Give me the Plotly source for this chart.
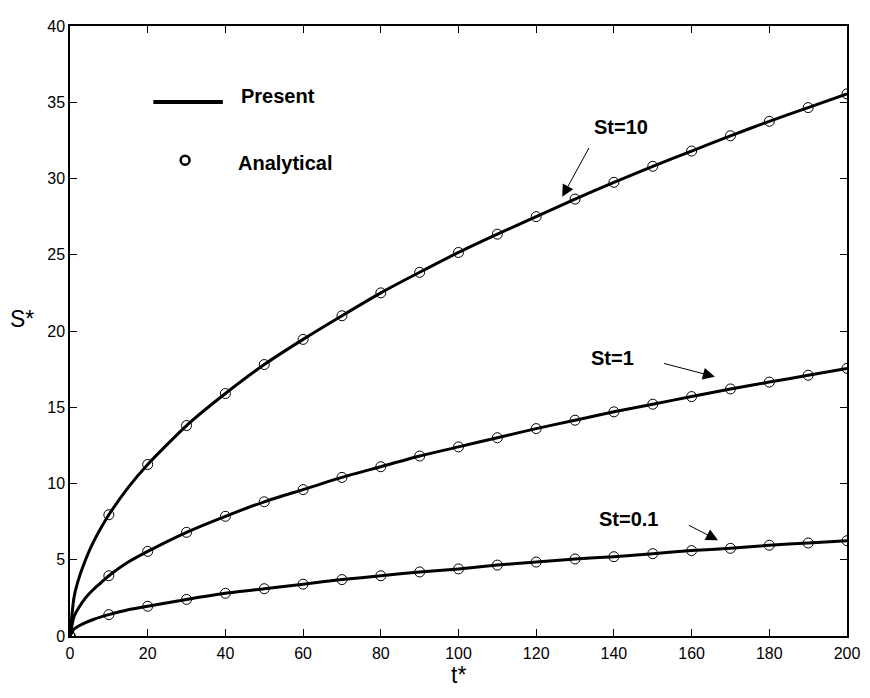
import plotly.graph_objects as go

# ---- data ----
t_markers = [0, 10, 20, 30, 40, 50, 60, 70, 80, 90, 100, 110, 120, 130, 140, 150, 160, 170, 180, 190, 200]
s_st10 = [0, 7.95, 11.25, 13.8, 15.9, 17.8, 19.45, 21.0, 22.5, 23.85, 25.15, 26.35, 27.5, 28.65, 29.75, 30.8, 31.8, 32.8, 33.75, 34.65, 35.55]
s_st1 = [0, 3.95, 5.55, 6.8, 7.85, 8.8, 9.6, 10.4, 11.1, 11.8, 12.4, 13.0, 13.6, 14.15, 14.7, 15.2, 15.7, 16.2, 16.65, 17.1, 17.55]
s_st01 = [0, 1.4, 1.95, 2.4, 2.8, 3.1, 3.4, 3.7, 3.95, 4.2, 4.4, 4.65, 4.85, 5.05, 5.2, 5.4, 5.6, 5.75, 5.95, 6.1, 6.25]

# "Present" curves (read more densely near the origin)
t_line = [0, 1, 2, 4, 6, 8, 10, 15, 20, 30, 40, 50, 60, 70, 80, 90, 100, 110, 120, 130, 140, 150, 160, 170, 180, 190, 200]
l_st10 = [0, 2.5, 3.55, 5.0, 6.15, 7.1, 7.95, 9.75, 11.25, 13.8, 15.9, 17.8, 19.45, 21.0, 22.5, 23.85, 25.15, 26.35, 27.5, 28.65, 29.75, 30.8, 31.8, 32.8, 33.75, 34.65, 35.55]
l_st1 = [0, 1.25, 1.75, 2.5, 3.05, 3.5, 3.95, 4.85, 5.55, 6.8, 7.85, 8.8, 9.6, 10.4, 11.1, 11.8, 12.4, 13.0, 13.6, 14.15, 14.7, 15.2, 15.7, 16.2, 16.65, 17.1, 17.55]
l_st01 = [0, 0.44, 0.62, 0.88, 1.08, 1.25, 1.4, 1.72, 1.95, 2.4, 2.8, 3.1, 3.4, 3.7, 3.95, 4.2, 4.4, 4.65, 4.85, 5.05, 5.2, 5.4, 5.6, 5.75, 5.95, 6.1, 6.25]

x_ticks = [0, 20, 40, 60, 80, 100, 120, 140, 160, 180, 200]
y_ticks = [0, 5, 10, 15, 20, 25, 30, 35, 40]

labels = ["St=10", "St=1", "St=0.1"]
label_pos = [(141.8, 33.4), (139.7, 18.25), (143.8, 7.64)]
arrow_tail = [(133.8, 32.1), (152.5, 17.9), (158.9, 7.31)]
arrow_head = [(126.7, 28.8), (166.0, 17.0), (166.8, 6.28)]

FONT = "Liberation Sans, Arial, sans-serif"

fig = go.Figure()
for ys in (l_st10, l_st1, l_st01):
    fig.add_trace(go.Scatter(x=t_line, y=ys, mode="lines",
                             line=dict(color="black", width=3, shape="spline", smoothing=0.6),
                             showlegend=False, hoverinfo="skip"))
for ys in (s_st10, s_st1, s_st01):
    fig.add_trace(go.Scatter(x=t_markers, y=ys, mode="markers",
                             marker=dict(symbol="circle-open", size=10, color="black",
                                         line=dict(width=1, color="black")),
                             showlegend=False))

# The page body has an 8px margin: size the figure so the screenshot frame matches.
W, H = 862, 690
PL, PR, PT, PB = 70, 853, 18, 636  # plot frame in screenshot pixels
pw, ph = PR - PL, PB - PT

def px(x):
    return (x - PL) / pw

def py(y):
    return (PB - y) / ph

# manual legend
fig.add_shape(type="line", xref="paper", yref="paper", x0=px(154), x1=px(224), y0=py(95), y1=py(95),
              line=dict(color="black", width=4))
fig.add_shape(type="circle", xref="paper", yref="paper", x0=px(181.5), x1=px(190.5), y0=py(158.5), y1=py(149.5),
              line=dict(color="black", width=2.5))
fig.add_annotation(x=px(240), y=py(89), xref="paper", yref="paper", text="<b>Present</b>", showarrow=False,
                   xanchor="left", yanchor="middle", font=dict(family=FONT, size=20, color="black"))
fig.add_annotation(x=px(237), y=py(157), xref="paper", yref="paper", text="<b>Analytical</b>", showarrow=False,
                   xanchor="left", yanchor="middle", font=dict(family=FONT, size=20, color="black"))

for lab, (lx, ly), (ax, ay), (hx, hy) in zip(labels, label_pos, arrow_tail, arrow_head):
    fig.add_annotation(x=lx, y=ly, text="<b>%s</b>" % lab, showarrow=False,
                       xanchor="center", yanchor="middle",
                       font=dict(family=FONT, size=20, color="black"))
    fig.add_annotation(x=hx, y=hy, ax=ax, ay=ay, axref="x", ayref="y", text="", showarrow=True,
                       arrowhead=2, arrowsize=2.4, arrowwidth=1, arrowcolor="black")

# axis titles (S* is upright in the reference)
fig.add_annotation(x=px(22), y=py(315), xref="paper", yref="paper", text="S*", showarrow=False,
                   xanchor="center", yanchor="middle", font=dict(family=FONT, size=23, color="black"))
fig.add_annotation(x=px(461), y=py(676), xref="paper", yref="paper", text="t*", showarrow=False,
                   xanchor="center", yanchor="middle", font=dict(family=FONT, size=23, color="black"))

axis_common = dict(showline=True, linecolor="black", linewidth=1.5, mirror="ticks", ticks="inside", ticklen=7,
                   tickwidth=1, tickcolor="black", showgrid=False, zeroline=False, ticklabeloverflow="allow",
                   tickfont=dict(family=FONT, size=16, color="black"))
fig.update_xaxes(range=[0, 200], tickvals=x_ticks, ticklabelstandoff=2, **axis_common)
fig.update_yaxes(range=[0, 40], tickvals=y_ticks, **axis_common)
fig.update_layout(width=W, height=H,
                  margin=dict(l=PL - 8, r=W - (PR - 8), t=PT - 8, b=H - (PB - 8)),
                  plot_bgcolor="white", paper_bgcolor="white", showlegend=False)
fig.write_html("out.html")
